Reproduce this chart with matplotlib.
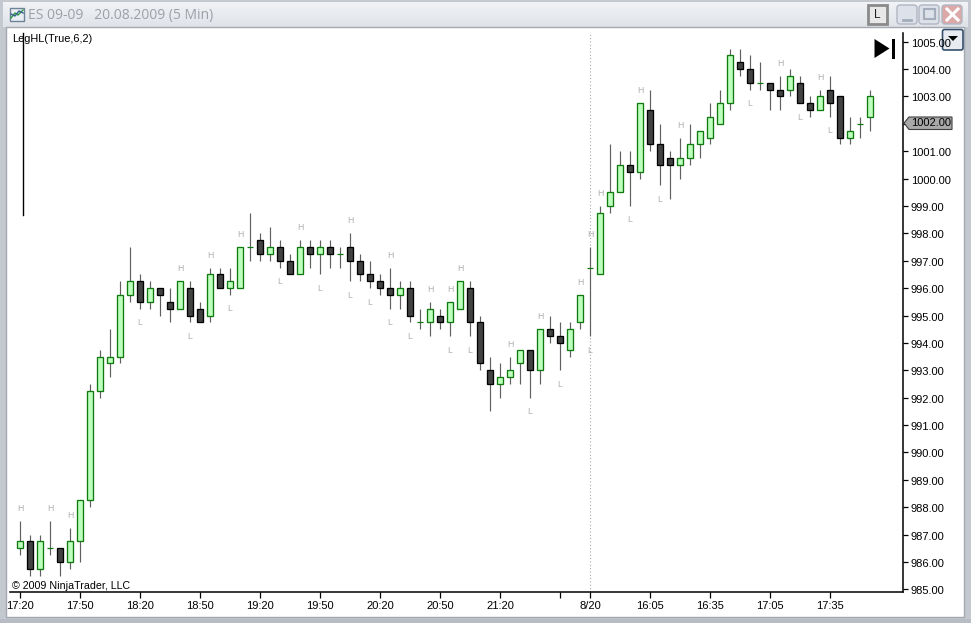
import matplotlib
matplotlib.use("Agg")
import matplotlib.pyplot as plt
from matplotlib.patches import Rectangle, Polygon, FancyBboxPatch
from matplotlib.transforms import ScaledTranslation
import numpy as np

plt.rcParams['font.family'] = ['Liberation Sans', 'DejaVu Sans']

W, H = 971, 623
opens = [986.5,986.75,985.75,986.5,986.5,986.0,986.75,988.25,992.25,993.25,993.5,995.75,996.25,995.5,996.0,995.5,
         995.25,996.0,995.25,995.0,996.5,996.0,996.0,997.5,997.75,997.25,997.5,997.0,996.5,997.5,997.25,997.5,
         997.25,997.5,997.0,996.5,996.25,996.0,995.75,996.0,994.75,994.75,995.0,994.75,995.25,996.0,994.75,993.0,
         992.5,992.75,993.25,993.75,993.0,994.5,994.25,993.75,994.75,996.75,996.5,999.0,999.5,1000.5,1000.25,1002.5,
         1001.25,1000.75,1000.5,1000.75,1001.25,1001.5,1002.0,1002.75,1004.25,1004.0,1003.5,1003.5,1003.25,1003.25,1003.5,1002.75,
         1002.5,1003.25,1003.0,1001.5,1002.0,1002.25]
closes = [986.75,985.75,986.75,986.5,986.0,986.75,988.25,992.25,993.5,993.5,995.75,996.25,995.5,996.0,995.75,995.25,
          996.25,995.0,994.75,996.5,996.0,996.25,997.5,997.5,997.25,997.5,997.0,996.5,997.5,997.25,997.5,997.25,
          997.25,997.0,996.5,996.25,996.0,995.75,996.0,995.0,994.75,995.25,994.75,995.5,996.25,994.75,993.25,992.5,
          992.75,993.0,993.75,993.0,994.5,994.25,994.0,994.5,995.75,996.75,998.75,999.5,1000.5,1000.25,1002.75,1001.25,
          1000.5,1000.5,1000.75,1001.25,1001.75,1002.25,1002.75,1004.5,1004.0,1003.5,1003.5,1003.25,1003.0,1003.75,1002.75,1002.5,
          1003.0,1002.75,1001.5,1001.75,1002.0,1003.0]
highs = [987.5,987.0,987.0,987.5,986.5,987.25,988.25,992.5,993.75,994.5,996.25,997.5,996.5,996.25,996.0,996.0,
         996.25,996.25,995.5,996.75,996.75,996.75,997.5,998.75,998.0,998.25,997.75,997.25,997.75,997.75,997.75,997.75,
         997.5,998.0,997.25,997.0,996.5,996.75,996.25,996.25,995.25,995.5,995.25,995.5,996.25,996.25,995.0,993.5,
         993.25,993.5,993.75,993.75,994.5,995.0,994.75,994.75,995.75,997.5,999.0,1001.25,1001.0,1001.0,1002.75,1003.25,
         1002.0,1001.0,1001.5,1002.0,1001.75,1002.75,1003.25,1004.75,1004.75,1004.5,1004.25,1003.5,1003.75,1004.0,1003.75,1003.0,
         1003.25,1003.75,1003.0,1002.25,1002.25,1003.25]
lows = [986.25,985.5,985.5,986.25,985.5,985.75,986.0,988.0,992.0,992.75,993.25,995.5,995.25,995.25,995.0,994.75,
        995.25,994.75,994.75,994.75,996.0,995.75,996.0,997.0,997.0,997.0,996.75,996.5,996.5,996.75,996.5,996.75,
        996.75,996.25,996.25,996.0,995.75,995.25,995.25,994.75,994.5,994.25,994.5,994.25,995.25,994.25,993.0,991.5,
        992.0,992.5,992.5,992.0,992.5,994.0,993.0,993.5,994.5,994.25,996.5,998.75,999.5,999.0,1000.0,1001.0,
        999.75,999.25,1000.0,1000.5,1000.75,1001.25,1002.0,1002.5,1003.75,1003.25,1003.25,1002.5,1002.5,1003.0,1002.75,1002.25,
        1002.5,1002.25,1001.25,1001.25,1001.5,1001.75]
h_bars = [0,3,5,16,19,22,28,33,37,41,43,44,49,52,56,57,58,62,66,76,80]
l_bars = [12,17,21,26,30,33,35,37,39,43,45,51,54,57,61,64,73,78,81]
price_ticks = list(range(985, 1006))
time_idx = [0,6,12,18,24,30,36,42,48,54,57,63,69,75,81]
time_labels = ['17:20','17:50','18:20','18:50','19:20','19:50','20:20','20:50','21:20','','8/20','16:05','16:35','17:05','17:35']
last_price = 1002.00
session_bar = 57

GREEN_FILL, GREEN_EDGE = '#bdffbd', '#107a10'
DARK_FILL, DARK_EDGE = '#424242', '#000000'
WICK = '#606060'
PXY = 27.38
Y985 = 589.3

fig = plt.figure(figsize=(W/100, H/100), dpi=100, facecolor='white')

# window frame, in pixel coordinates
bg = fig.add_axes([0, 0, 1, 1], zorder=0)
bg.set_xlim(0, W); bg.set_ylim(H, 0); bg.axis('off')
bg.add_patch(Rectangle((0, 0), W, H, fc='#c4c8cf', ec='none'))
grad = np.linspace(0, 1, 27)[:, None]
bg.imshow(grad, extent=(3, 968, 27, 2), cmap=matplotlib.colors.LinearSegmentedColormap.from_list('t', ['#f1f3f6', '#dfe3e8']),
          aspect='auto', zorder=1)
bg.set_xlim(0, W); bg.set_ylim(H, 0)
bg.add_patch(Rectangle((6, 27), 958, 590, fc='white', ec='#a4a8b0', lw=1, zorder=2))
bg.add_patch(Rectangle((0, 619), W, 4, fc='#b8bcc4', ec='none', zorder=2))
bg.text(28, 15, 'ES 09-09   20.08.2009 (5 Min)', fontsize=10, color='#9ca1a8', family=['Open Sans', 'DejaVu Sans'],
        va='center', ha='left', zorder=3)
# title icon
bg.add_patch(Rectangle((10, 8), 14, 13, fc='#e9eef4', ec='#6f8296', lw=1, zorder=3))
bg.plot([11, 15, 18, 23], [18, 13, 15, 10], color='#2a9a3a', lw=1, zorder=4)
bg.plot([11, 15, 19, 23], [14, 16, 11, 13], color='#35608f', lw=1, zorder=4)
# L button
bg.add_patch(Rectangle((867.5, 4.5), 19, 19, fc='#e8e8e8', ec='#8a8a8a', lw=2, zorder=3))
bg.text(877, 15, 'L', fontsize=8.5, ha='center', va='center', color='#202020', zorder=4)
# window buttons
for x0, fc in [(897, '#dde1ea'), (919, '#dde1ea'), (942, '#dca8a8')]:
    bg.add_patch(FancyBboxPatch((x0, 5), 20, 19, boxstyle='round,pad=0,rounding_size=3', fc=fc, ec='#b0b6c2', lw=1, zorder=3))
bg.plot([903, 911], [20, 20], color='#a4adbb', lw=2, zorder=4)
bg.add_patch(Rectangle((924, 9), 11, 10, fc='none', ec='#a4adbb', lw=1.5, zorder=4))
bg.plot([947, 958], [9, 20], color='white', lw=2.2, zorder=4)
bg.plot([947, 958], [20, 9], color='white', lw=2.2, zorder=4)
# dropdown
bg.add_patch(FancyBboxPatch((942.5, 29.5), 20.5, 20.5, boxstyle='round,pad=0,rounding_size=2', fc='#e8ebf0', ec='#35506e', lw=1.2, zorder=3))
bg.add_patch(Polygon([[948, 36], [958, 36], [953, 41]], fc='black', ec='none', zorder=4))

# chart
L, R, T, B = 10, 903, 33, 592
ax = fig.add_axes([L/W, 1-B/H, (R-L)/W, (B-T)/H], zorder=1)
ax.patch.set_alpha(0)
ax.set_xlim((L-20)/10, (R-20)/10)
ax.set_ylim(985-(B-Y985)/PXY, 985+(Y985-T)/PXY)
for s in ['top', 'left']:
    ax.spines[s].set_visible(False)
ax.spines['right'].set_linewidth(1.1)
ax.spines['bottom'].set_linewidth(1.1)
ax.yaxis.tick_right()
ax.set_yticks(price_ticks)
ax.set_yticklabels(['' if p == last_price else f'{p:.2f}' for p in price_ticks], fontsize=8)
ax.set_xticks(time_idx)
ax.set_xticklabels(time_labels, fontsize=8)
ax.tick_params(axis='y', length=3.6, width=0.9, pad=1.9)
ax.tick_params(axis='x', length=4.3, width=0.9, pad=2.2)
label_shift = ScaledTranslation(0, -1/100, fig.dpi_scale_trans)
for lab in ax.get_yticklabels():
    lab.set_transform(lab.get_transform() + label_shift)

ax.axvline(session_bar, color='#a8a8a8', lw=0.8, ls=(0, (1, 2)), zorder=1)

for i, (o, c, h, l) in enumerate(zip(opens, closes, highs, lows)):
    ax.plot([i, i], [l, h], color=WICK, lw=0.85, zorder=2, solid_capstyle='butt')
    up = c >= o
    if o == c:
        ax.plot([i-0.34, i+0.34], [o, o], color=GREEN_EDGE, lw=0.9, zorder=3, solid_capstyle='butt')
    else:
        ax.add_patch(Rectangle((i-0.28, min(o, c)), 0.56, abs(c-o), fc=GREEN_FILL if up else DARK_FILL,
                               ec=GREEN_EDGE if up else DARK_EDGE, lw=0.95, zorder=3))

for i in h_bars:
    ax.text(i, highs[i]+12.5/PXY, 'H', fontsize=6.3, color='#b0b0b0', ha='center', va='center')
for i in l_bars:
    ax.text(i, lows[i]-14/PXY, 'L', fontsize=6.3, color='#b0b0b0', ha='center', va='center')

# overlays
bg2 = fig.add_axes([0, 0, 1, 1], zorder=2)
bg2.set_xlim(0, W); bg2.set_ylim(H, 0); bg2.axis('off'); bg2.patch.set_alpha(0)
bg2.plot([22.5, 22.5], [33, 215], color='black', lw=1)
bg2.text(12, 39.5, 'LegHL(True,6,2)', fontsize=7.9, va='center', ha='left', color='black')
bg2.text(12.5, 586, '© 2009 NinjaTrader, LLC', fontsize=7.7, va='center', ha='left', color='black')
bg2.add_patch(Polygon([[874.5, 39], [874.5, 58], [889.5, 48.5]], fc='black', ec='none'))
bg2.add_patch(Rectangle((892, 38.5), 2.5, 20, fc='black', ec='none'))
# last-price flag
bg2.add_patch(Polygon([[904, 123], [909, 117], [952, 117], [952, 129.5], [909, 129.5]], fc='#a8a8a8', ec='#404040', lw=0.8))
bg2.text(911, 123.5, f'{last_price:.2f}', fontsize=8, va='center', ha='left', color='black')

fig.savefig('out.png', dpi=100)
